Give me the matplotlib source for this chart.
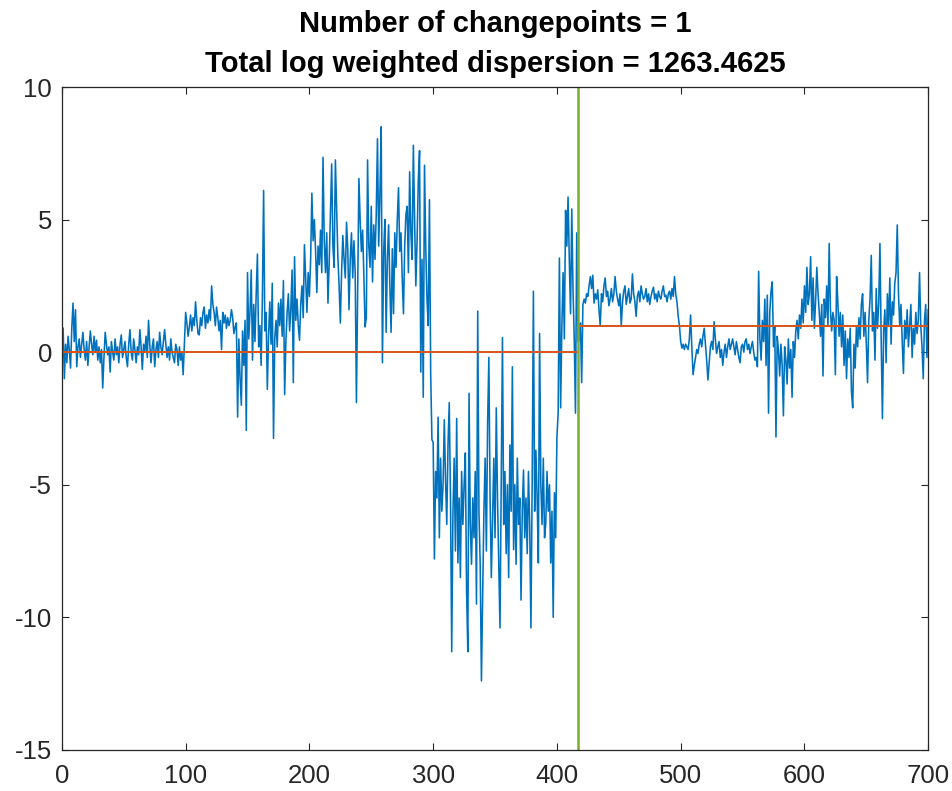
import numpy as np
import matplotlib
matplotlib.use("Agg")
import matplotlib.pyplot as plt

# values, by stretch of samples
sig_001_100 = [
    0.9, -1.0, 0.3, -0.4, 0.6, 0.1, -0.6, 0.9, 1.85, 0.4,
    1.6, -0.55, 0.2, 0.5, -0.2, 0.3, 0.75, 0.1, -0.3, 0.4,
    -0.5, 0.2, 0.8, 0.3, -0.1, 0.6, 0.0, 0.45, -0.3, 0.2,
    -0.4, 0.1, -1.35, -0.2, 0.75, 0.3, -0.1, 0.2, -0.75, 0.4,
    0.0, -0.3, 0.5, -0.1, 0.2, -0.4, 0.3, 0.65, -0.2, 0.1,
    0.4, -0.2, -0.55, 0.3, 0.85, 0.0, -0.3, 0.5, 0.1, -0.4,
    0.2, -0.1, 0.85, 0.2, -0.65, 0.3, 0.0, 0.6, -0.2, 1.2,
    0.3, -0.4, 0.2, 0.5, -0.55, 0.1, 0.4, -0.2, 0.75, 0.2,
    -0.1, 0.4, 0.85, 0.3, -0.2, 0.2, -0.3, 0.5, 0.0, -0.2,
    -0.4, 0.3, 0.1, -0.5, 0.2, -0.3, 0.0, -0.85, 0.3, 1.5,
]
sig_101_140 = [
    1.1, 0.6, 0.95, 1.4, 0.8, 1.3, 1.0, 1.9, 1.2, 0.7,
    0.65, 1.3, 1.0, 1.5, 1.7, 0.9, 1.4, 1.1, 1.6, 1.2,
    2.5, 1.8, 1.5, 1.0, 1.7, 1.3, 0.8, 1.2, 0.1, 1.5,
    1.1, 1.4, 0.9, 1.3, 1.0, 1.2, 1.6, 1.3, 0.7, 0.95,
]
sig_141_200 = [
    1.1, -2.45, 0.5, -1.0, -2.0, 0.8, -0.5, 1.2, -2.95, 3.0,
    0.5, 1.5, 3.1, -0.3, 1.8, 0.4, 2.2, 3.7, 0.2, 1.0,
    -0.5, 2.0, 6.1, 0.8, 1.5, -1.4, 0.6, 1.9, 0.3, 2.6,
    -3.25, 0.5, 1.2, 0.2, 1.85, 1.0, 2.0, 0.6, 2.7, -1.6,
    0.4, 1.5, 2.2, 0.8, 1.6, 3.1, -1.15, 3.6, 1.2, 2.0,
    1.0, 0.45, 1.8, 2.5, 1.3, 4.05, 2.8, 1.5, 3.0, 2.1,
]
sig_201_300 = [
    3.5, 6.0, 4.2, 5.0, 3.8, 2.25, 4.0, 3.3, 4.6, 3.0,
    7.35, 4.2, 3.0, 4.5, 1.85, 3.4, 5.2, 7.1, 4.0, 3.2,
    7.25, 5.5, 3.6, 2.5, 1.1, 3.0, 4.4, 3.5, 2.8, 4.9,
    3.9, 1.6, 3.5, 4.5, 2.8, 4.2, 3.0, -1.9, 2.5, 6.55,
    5.0, 3.8, 4.6, 2.9, 0.95, 1.3, 7.25, 4.0, 3.2, 5.5,
    2.65, 4.8, 3.5, 5.2, 8.05, 4.0, 6.0, 8.5, -0.4, 3.8,
    5.0, 0.75, 3.5, 4.8, 2.5, 0.75, 3.9, 1.45, 4.5, 3.2,
    5.0, 6.2, 3.8, 4.5, 2.8, 1.45, 4.0, 5.2, 5.5, 3.0,
    6.8, 4.5, 3.5, 7.8, 5.0, 2.5, 4.2, 6.5, 7.6, -0.75,
    3.5, -1.7, 7.05, 4.0, 2.0, 1.0, 5.75, -0.8, -3.3, -3.4,
]
sig_301_400 = [
    -7.8, -4.5, -5.5, -2.45, -7.0, -4.0, -6.0, -5.0, -2.55, -4.8,
    -6.5, -3.5, -1.9, -5.5, -11.3, -6.0, -4.0, -7.5, -2.5, -7.95,
    -5.5, -8.5, -4.5, -6.5, -5.0, -3.8, -9.0, -11.3, -1.55, -6.5,
    -8.0, -5.5, -7.0, -4.5, -9.5, 1.55, -6.0, -8.0, -12.4, -9.1,
    -6.0, -4.0, -7.5, -2.7, -0.2, -5.5, -8.5, -6.35, -4.0, -7.0,
    -2.1, -5.5, -8.0, -10.4, -5.0, 0.55, -6.5, -4.5, -7.6, -5.0,
    -8.5, -3.5, -6.0, -0.55, -7.45, -5.0, -8.0, -4.0, -6.5, -5.5,
    -9.35, -6.0, -4.45, -7.0, -5.5, -7.6, -4.5, -6.5, -10.4, -5.0,
    2.3, -6.0, -3.7, -5.5, -7.95, 0.7, -5.0, -6.5, -4.0, -7.0,
    -6.45, -4.5, -6.0, -5.0, -7.95, -6.0, -10.0, -5.3, -7.0, -3.2,
]
sig_401_417 = [
    -2.3, 3.55, -2.1, 1.0, 3.0, 0.5, 5.35, 4.0, 5.85, 3.5,
    1.45, 5.4, 2.35, 0.5, -2.3, 4.5, 0.4,
]
sig_418_500 = [
    0.45, 1.1, -1.15, 1.8, 2.0, 1.85, 2.2, 2.1, 2.5, 2.85,
    2.4, 2.9, 1.85, 2.2, 2.0, 2.35, 1.6, 1.0, 2.2, 1.9,
    2.5, 2.8, 2.1, 2.3, 1.75, 2.0, 2.4, 1.9, 2.2, 2.85,
    2.3, 2.0, 1.75, 2.2, 1.0, 1.9, 2.3, 2.5, 1.8, 2.1,
    2.4, 1.85, 2.0, 2.95, 2.2, 1.9, 1.35, 2.1, 2.3, 1.9,
    2.5, 2.2, 2.0, 2.1, 2.4, 1.9, 2.2, 1.8, 2.1, 2.3,
    2.45, 2.0, 2.2, 1.9, 2.3, 2.1, 2.0, 2.3, 2.5, 2.1,
    2.15, 1.9, 2.2, 2.3, 2.0, 2.4, 2.1, 2.85, 2.2, 1.9,
    1.35, 1.0, 0.4,
]
sig_501_562 = [
    0.15, 0.3, 0.1, 0.3, 0.2, 0.1, 0.5, 1.4, 0.2, -0.85,
    -0.5, -0.2, 0.1, -0.05, 0.3, 0.5, 0.2, 0.6, 0.9, 0.3,
    -0.3, -1.05, -0.4, 0.2, 0.4, 0.1, 1.15, 0.5, -0.05, 0.2,
    0.4, -0.2, 0.1, -0.5, 0.0, 0.3, -0.2, 0.2, 0.5, 0.1,
    0.3, 0.5, 0.2, -0.1, 0.4, 0.1, -0.2, -0.4, 0.2, 0.3,
    0.0, 0.4, 0.5, 0.1, 0.3, -0.05, 0.2, 0.4, 0.0, -0.3,
    -0.2, -0.55,
]
sig_563_700 = [
    3.05, 0.5, -0.3, 1.2, 0.4, 2.0, -0.5, 2.15, -2.3, 1.5,
    2.3, 2.65, 0.2, 1.0, -3.2, 0.6, 0.1, -0.9, 0.3, -0.5,
    -2.4, 0.2, -0.3, -1.2, 0.5, -0.6, 0.1, -1.7, 0.4, -0.2,
    0.8, 1.2, 0.5, 1.4, 0.9, 2.0, 1.1, 2.5, 1.5, 3.2,
    1.8, 2.2, 3.6, 1.2, 2.8, 0.9, 1.9, 3.2, 2.2, 1.5,
    0.6, 1.8, -0.9, 2.0, 1.3, 2.5, 1.0, 4.1, 1.6, 0.8,
    1.5, 1.2, -0.85, 2.85, 1.9, 0.6, 1.5, 0.2, 1.4, -0.5,
    0.8, -1.0, 0.5, -0.2, 0.9, -1.5, -2.1, 0.3, -0.6, 1.0,
    0.2, 1.3, 0.5, 1.8, 2.2, 0.6, 1.5, 0.3, -1.15, 1.2,
    2.0, 3.65, 0.8, 1.5, -0.3, 2.4, 0.9, 1.8, 4.1, 0.5,
    -2.5, 0.8, 1.6, -0.4, 2.2, 1.0, 2.8, 0.3, 1.9, 1.4,
    2.6, 3.0, 4.8, 2.2, 1.0, 1.8, 0.4, -0.8, 1.2, 0.5,
    1.6, 0.2, 1.0, 1.8, -0.2, 0.9, 0.3, 1.5, 0.7, 1.2,
    3.0, 1.0, 0.2, -1.0, 1.2, 1.8, -0.2, 1.6,
]

changepoint = 417
seg_starts = [1, 417]
seg_ends = [416, 700]
seg_means = [0.0, 0.97]
n_changepoints = 1
total_dispersion = 1263.4625

signal = np.array(sig_001_100 + sig_101_140 + sig_141_200 + sig_201_300
                  + sig_301_400 + sig_401_417 + sig_418_500 + sig_501_562
                  + sig_563_700)
idx = np.arange(1, len(signal) + 1)

plt.rcParams['font.family'] = ['Liberation Sans', 'DejaVu Sans']
plt.rcParams['axes.unicode_minus'] = False

fig = plt.figure(figsize=(9.52, 7.91), dpi=100)
ax = fig.add_axes([0.065, 0.052, 0.91, 0.838])

ax.plot(idx, signal, color='#0072BD', lw=1.15)
for s, e, m in zip(seg_starts, seg_ends, seg_means):
    ax.plot([s, e], [m, m], color='#D95319', lw=1.4)
ax.axvline(changepoint, color='#77AC30', lw=1.8)

ax.set_xlim(0, 700)
ax.set_ylim(-15, 10)
ax.set_xticks(np.arange(0, 701, 100))
ax.set_yticks(np.arange(-15, 11, 5))
ax.tick_params(direction='in', top=True, right=True, length=5, width=0.8,
               labelsize=18.5, colors='#262626')
ax.tick_params(axis='x', pad=10)
ax.tick_params(axis='y', pad=7)
for sp in ax.spines.values():
    sp.set_color('#262626')
    sp.set_linewidth(0.9)

ax.set_title("Number of changepoints = %d\nTotal log weighted dispersion = %.4f"
             % (n_changepoints, total_dispersion),
             fontsize=21, fontweight='bold', color='black', linespacing=1.55, pad=11)

fig.savefig("out.png", dpi=100)
